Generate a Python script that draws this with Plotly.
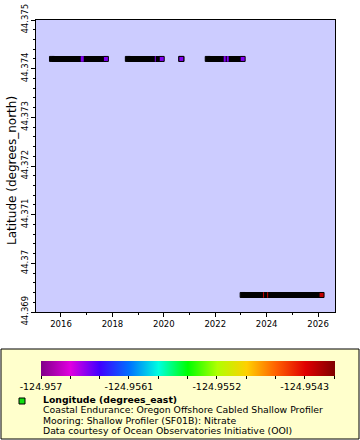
import plotly.graph_objects as go

# ---------------- data ----------------
top_lat = 44.37420
bottom_lat = 44.36935

top_starts = ["2015-08-26", "2018-08-08", "2020-09-06", "2021-09-16"]
top_ends = ["2017-09-30", "2019-12-02", "2020-09-06", "2023-01-25"]
bottom_starts = ["2023-01-25"]
bottom_ends = ["2026-02-19"]

top_lon = -124.95652
bottom_lon = -124.95420

top_partial_dates = ["2016-10-29", "2019-09-02", "2022-05-15", "2022-06-27"]
bottom_partial_dates = ["2023-11-18", "2024-01-15"]

y_tickvals = [44.369, 44.370, 44.371, 44.372, 44.373, 44.374, 44.375]
y_ticktext = ["44.369", "44.37", "44.371", "44.372", "44.373", "44.374", "44.375"]

cb_min = -124.957
cb_max = -124.95399
cb_major_vals = [-124.957, -124.9561, -124.9552, -124.9543]
cb_major_text = ["-124.957", "-124.9561", "-124.9552", "-124.9543"]
cb_minor_vals = [-124.9567, -124.9564, -124.9558, -124.9555, -124.9549, -124.9546, -124.954]

legend_title = "Longitude (degrees_east)"
legend_lines = [
    "Coastal Endurance: Oregon Offshore Cabled Shallow Profiler",
    "Mooring: Shallow Profiler (SF01B): Nitrate",
    "Data courtesy of Ocean Observatories Initiative (OOI)",
]

# ---------------- styles ----------------
colorscale = [
    [0.0, "#800088"], [0.1, "#e000e0"], [0.2, "#4000ff"], [0.3, "#0070ff"],
    [0.4, "#00ffe0"], [0.5, "#00ff00"], [0.6, "#b0ff00"], [0.7, "#ffd000"],
    [0.8, "#ff6000"], [0.9, "#e00000"], [1.0, "#800000"],
]
FONT = "DejaVu Sans"
W, H = 360, 440
ML, MR, MT, MB = 36, 25, 20, 128
PW, PH = W - ML - MR, H - MT - MB


def px(x):
    return (x - ML) / PW


def py(y):
    return (H - MB - y) / PH


def seg_xy(starts, ends, lat):
    xs, ys = [], []
    for s, e in zip(starts, ends):
        xs += [s, e, None]
        ys += [lat, lat, None]
    return xs, ys


fig = go.Figure()

for starts, ends, lat in [(top_starts, top_ends, top_lat), (bottom_starts, bottom_ends, bottom_lat)]:
    xs, ys = seg_xy(starts, ends, lat)
    fig.add_trace(go.Scatter(x=xs, y=ys, mode="lines", line=dict(color="black", width=6),
                             hoverinfo="skip", showlegend=False))
    fig.add_trace(go.Scatter(x=starts, y=[lat] * len(starts), mode="markers",
                             marker=dict(symbol="square", size=5, color="black",
                                         line=dict(color="black", width=1)),
                             showlegend=False))

# partially covered markers (thin coloured slivers)
partial_widths_top = [3, 1, 2, 2]
partial_widths_bottom = [1, 1]
fig.add_trace(go.Scatter(
    x=top_partial_dates + bottom_partial_dates,
    y=[top_lat] * len(top_partial_dates) + [bottom_lat] * len(bottom_partial_dates),
    mode="markers",
    marker=dict(symbol="line-ns", size=4,
                line=dict(color=[top_lon] * len(top_partial_dates) + [bottom_lon] * len(bottom_partial_dates),
                          coloraxis="coloraxis",
                          width=partial_widths_top + partial_widths_bottom)),
    showlegend=False))

# fully visible coloured markers at segment ends
fig.add_trace(go.Scatter(
    x=top_ends + bottom_ends,
    y=[top_lat] * len(top_ends) + [bottom_lat] * len(bottom_ends),
    mode="markers",
    marker=dict(symbol="square", size=5,
                color=[top_lon] * len(top_ends) + [bottom_lon] * len(bottom_ends),
                coloraxis="coloraxis",
                line=dict(color="black", width=1)),
    showlegend=False))

tick_font = dict(family=FONT, size=8.5, color="black")

fig.update_layout(
    width=W, height=H,
    margin=dict(l=ML, r=MR, t=MT, b=MB, autoexpand=False),
    paper_bgcolor="white",
    plot_bgcolor="#ccccff",
    font=dict(family=FONT, color="black"),
    xaxis=dict(
        type="date", range=["2015-01-11", "2026-08-29"],
        showline=True, linecolor="black", linewidth=1, mirror=True,
        showgrid=False, zeroline=False,
        ticks="outside", ticklen=4, tickcolor="black",
        tick0="2016-01-01", dtick="M24", tickformat="%Y", tickfont=tick_font,
        minor=dict(ticks="outside", ticklen=2, tickcolor="black", dtick="M12", tick0="2015-01-01",
                   showgrid=False),
    ),
    yaxis=dict(
        range=[44.369, 44.375],
        showline=True, linecolor="black", linewidth=1, mirror=True,
        showgrid=False, zeroline=False,
        ticks="outside", ticklen=4, tickcolor="black",
        tickvals=y_tickvals, ticktext=y_ticktext, tickangle=-90, tickfont=tick_font,
        minor=dict(ticks="outside", ticklen=2, tickcolor="black", dtick=0.0002, tick0=44.369,
                   showgrid=False),
    ),
    coloraxis=dict(
        colorscale=colorscale, cmin=cb_min, cmax=cb_max,
        colorbar=dict(
            orientation="h", x=px(188), xanchor="center", y=py(361), yanchor="top",
            lenmode="pixels", len=294, thickness=15, xpad=0, ypad=0,
            outlinewidth=0,
            ticks="outside", ticklen=3, tickcolor="black",
            tickvals=cb_major_vals + cb_minor_vals,
            ticktext=cb_major_text + [""] * len(cb_minor_vals),
            tickfont=dict(family=FONT, size=9.5, color="black"),
        ),
    ),
    shapes=[
        dict(type="rect", xref="paper", yref="paper", x0=px(1), x1=px(359), y0=py(439), y1=py(349),
             fillcolor="#ffffcc", line=dict(color="black", width=1), layer="below"),
        dict(type="rect", xref="paper", yref="paper", x0=px(19), x1=px(25), y0=py(404), y1=py(398),
             fillcolor="#10e010", line=dict(color="black", width=1)),
    ],
)

annotations = [
    dict(text="Latitude (degrees_north)", xref="paper", yref="paper", x=px(12), y=py(171),
         textangle=-90, showarrow=False, font=dict(family=FONT, size=12, color="black"),
         xanchor="center", yanchor="middle"),
    dict(text="<b>" + legend_title + "</b>", xref="paper", yref="paper", x=px(42), y=py(399.5),
         showarrow=False, xanchor="left", yanchor="middle", borderpad=0,
         font=dict(family=FONT, size=9.3, color="black")),
]
for i, line in enumerate(legend_lines):
    annotations.append(dict(text=line, xref="paper", yref="paper", x=px(42), y=py(409.5 + 10.5 * i),
                            showarrow=False, xanchor="left", yanchor="middle", borderpad=0,
                            font=dict(family=FONT, size=9.3, color="black")))
fig.update_layout(annotations=annotations)

fig.write_html("out.html", config={"displayModeBar": False},
               post_script="document.body.style.margin='0px';")
